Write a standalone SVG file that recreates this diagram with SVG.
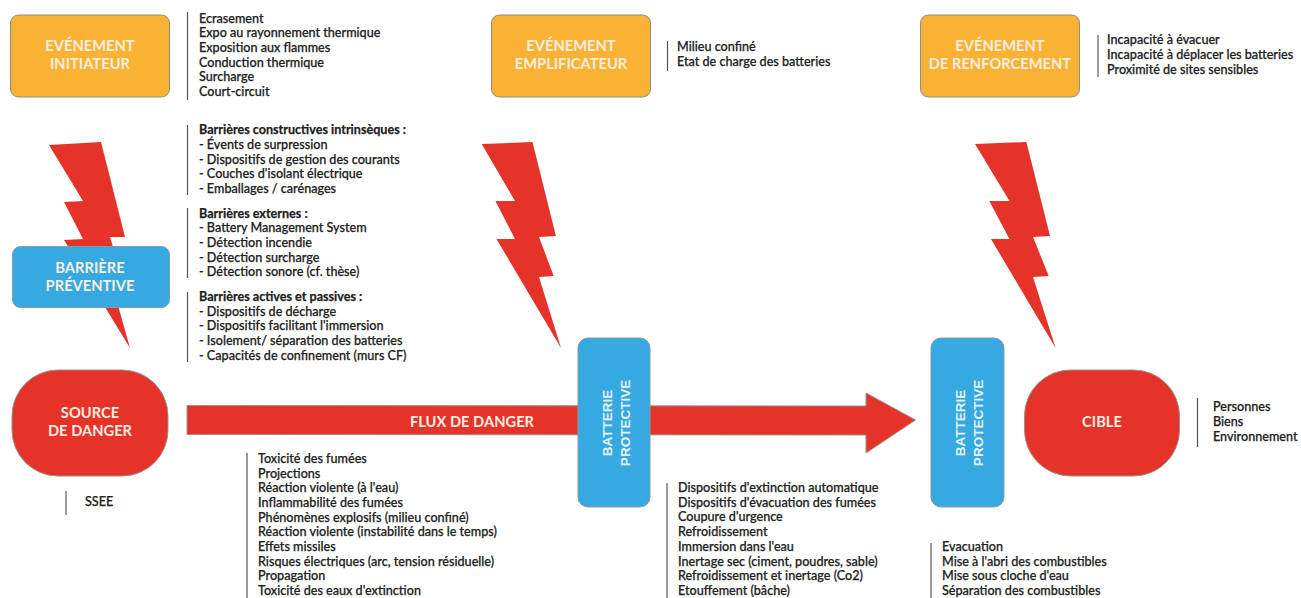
<svg xmlns="http://www.w3.org/2000/svg" width="1301" height="598" viewBox="0 0 1301 598">
<style>
.o{fill:#f9b233;stroke:#8c8c80;stroke-width:1}
.b{fill:#36a9e1;stroke:#8a9aa5;stroke-width:1}
.r{fill:#e63329;stroke:#9a8f8c;stroke-width:1}
.z{fill:#e63329}
.w{font-family:Lato,"Liberation Sans",sans-serif;font-weight:700;font-size:14.7px;fill:#fbeee0;text-anchor:middle}
.v{font-family:"Liberation Sans",Arial,sans-serif;font-weight:700;font-size:13.5px;fill:#e4f2fa;text-anchor:middle}
.t{font-family:Lato,"Liberation Sans",sans-serif;font-weight:500;font-size:12.6px;fill:#222;stroke:#222;stroke-width:.25}
.h{font-weight:700}
.l{stroke:#555;stroke-width:1.2;fill:none}
</style>
<g id="connectors">
<polygon class="z" points="49,145 101,142 125,237 110,237 122,277 110,277 130,348 64,240 83,239 64,202 83,201"/>
<polygon class="z" points="481.7,144 532.5,142 555.9,236 539,237 553.7,276 539,277 561,348 496.5,239 515,239 495.4,201 515,201"/>
<polygon class="z" points="975,144 1026.4,142 1050,236 1033,237 1048.7,276 1033,277 1055.6,348 991,239 1009.5,239 989.3,201 1009.5,201"/>
<polygon class="r" points="187,405.500 866,406 866,393 915.500,420 866,453 866,435 187,434.500"/>
<text class="w" x="472" y="427">FLUX DE DANGER</text>
</g>
<g id="evenement-initiateur"><rect class="o" x="10.500" y="15" width="159" height="82" rx="8"/><text class="w" x="90" y="51">EVÉNEMENT</text><text class="w" x="90" y="69">INITIATEUR</text></g>
<g id="evenement-emplificateur"><rect class="o" x="491.500" y="15" width="159" height="82" rx="8"/><text class="w" x="571" y="51">EVÉNEMENT</text><text class="w" x="571" y="69">EMPLIFICATEUR</text></g>
<g id="evenement-renforcement"><rect class="o" x="920.500" y="15" width="159" height="82" rx="8"/><text class="w" x="1000" y="51">EVÉNEMENT</text><text class="w" x="1000" y="69">DE RENFORCEMENT</text></g>
<g id="barriere-preventive"><rect class="b" x="12.500" y="246.500" width="157" height="61" rx="8"/><text class="w" x="90" y="273">BARRIÈRE</text><text class="w" x="90" y="291">PRÉVENTIVE</text></g>
<g id="source-de-danger"><rect class="r" x="12" y="370" width="156" height="106" rx="46"/><text class="w" x="90" y="418">SOURCE</text><text class="w" x="90" y="436">DE DANGER</text></g>
<g id="cible"><rect class="r" x="1024.500" y="370" width="155" height="106" rx="46"/><text class="w" x="1102" y="427">CIBLE</text></g>
<g id="batterie-1"><rect class="b" x="578" y="338" width="72" height="169" rx="10"/><text class="v" transform="translate(612,423) rotate(-90)">BATTERIE</text><text class="v" transform="translate(630,423) rotate(-90)">PROTECTIVE</text></g>
<g id="batterie-2"><rect class="b" x="931" y="338" width="73" height="169" rx="10"/><text class="v" transform="translate(965,423) rotate(-90)">BATTERIE</text><text class="v" transform="translate(983,423) rotate(-90)">PROTECTIVE</text></g>
<g id="liste-initiateur"><path class="l" d="M187.500 12V100"/>
<text class="t" x="199" y="22.500">Ecrasement</text><text class="t" x="199" y="37">Expo au rayonnement thermique</text><text class="t" x="199" y="52">Exposition aux flammes</text><text class="t" x="199" y="66.500">Conduction thermique</text><text class="t" x="199" y="81">Surcharge</text><text class="t" x="199" y="96">Court-circuit</text></g>
<g id="liste-barrieres-constructives"><path class="l" d="M187.500 125V195"/>
<text class="t h" x="199" y="134">Barrières constructives intrinsèques :</text><text class="t" x="199" y="149">- Évents de surpression</text><text class="t" x="199" y="163.500">- Dispositifs de gestion des courants</text><text class="t" x="199" y="178">- Couches d'isolant électrique</text><text class="t" x="199" y="193">- Emballages / carénages</text></g>
<g id="liste-barrieres-externes"><path class="l" d="M187.500 208V278"/>
<text class="t h" x="199" y="217.500">Barrières externes :</text><text class="t" x="199" y="232">- Battery Management System</text><text class="t" x="199" y="247">- Détection incendie</text><text class="t" x="199" y="261.500">- Détection surcharge</text><text class="t" x="199" y="276">- Détection sonore (cf. thèse)</text></g>
<g id="liste-barrieres-actives"><path class="l" d="M187.500 292V362"/>
<text class="t h" x="199" y="301">Barrières actives et passives :</text><text class="t" x="199" y="315.500">- Dispositifs de décharge</text><text class="t" x="199" y="330">- Dispositifs facilitant l'immersion</text><text class="t" x="199" y="345">- Isolement/ séparation des batteries</text><text class="t" x="199" y="359.500">- Capacités de confinement (murs CF)</text></g>
<g id="liste-emplificateur"><path class="l" d="M667.500 41V71"/><text class="t" x="677" y="51">Milieu confiné</text><text class="t" x="677" y="66">Etat de charge des batteries</text></g>
<g id="liste-renforcement"><path class="l" d="M1098 35V77"/><text class="t" x="1107" y="44">Incapacité à évacuer</text><text class="t" x="1107" y="59">Incapacité à déplacer les batteries</text><text class="t" x="1107" y="74">Proximité de sites sensibles</text></g>
<g id="liste-source"><path class="l" d="M66 491V515"/><text class="t" x="85" y="506">SSEE</text></g>
<g id="liste-flux"><path class="l" d="M247 453V598"/>
<text class="t" x="258" y="463">Toxicité des fumées</text><text class="t" x="258" y="477.700">Projections</text><text class="t" x="258" y="492.300">Réaction violente (à l'eau)</text><text class="t" x="258" y="507">Inflammabilité des fumées</text><text class="t" x="258" y="521.700">Phénomènes explosifs (milieu confiné)</text><text class="t" x="258" y="536.300">Réaction violente (instabilité dans le temps)</text><text class="t" x="258" y="551">Effets missiles</text><text class="t" x="258" y="565.700">Risques électriques (arc, tension résiduelle)</text><text class="t" x="258" y="580.300">Propagation</text><text class="t" x="258" y="595">Toxicité des eaux d'extinction</text></g>
<g id="liste-batterie-1"><path class="l" d="M667 483V598"/>
<text class="t" x="678" y="492">Dispositifs d'extinction automatique</text><text class="t" x="678" y="506.700">Dispositifs d'évacuation des fumées</text><text class="t" x="678" y="521.400">Coupure d'urgence</text><text class="t" x="678" y="536.100">Refroidissement</text><text class="t" x="678" y="550.900">Immersion dans l'eau</text><text class="t" x="678" y="565.600">Inertage sec (ciment, poudres, sable)</text><text class="t" x="678" y="580.300">Refroidissement et inertage (Co2)</text><text class="t" x="678" y="595">Etouffement (bâche)</text></g>
<g id="liste-batterie-2"><path class="l" d="M931 543V598"/>
<text class="t" x="942" y="551">Evacuation</text><text class="t" x="942" y="565.600">Mise à l'abri des combustibles</text><text class="t" x="942" y="580.300">Mise sous cloche d'eau</text><text class="t" x="942" y="595">Séparation des combustibles</text></g>
<g id="liste-cible"><path class="l" d="M1197.500 398V447"/><text class="t" x="1213" y="411">Personnes</text><text class="t" x="1213" y="425.700">Biens</text><text class="t" x="1213" y="440.500">Environnement</text></g>
</svg>
